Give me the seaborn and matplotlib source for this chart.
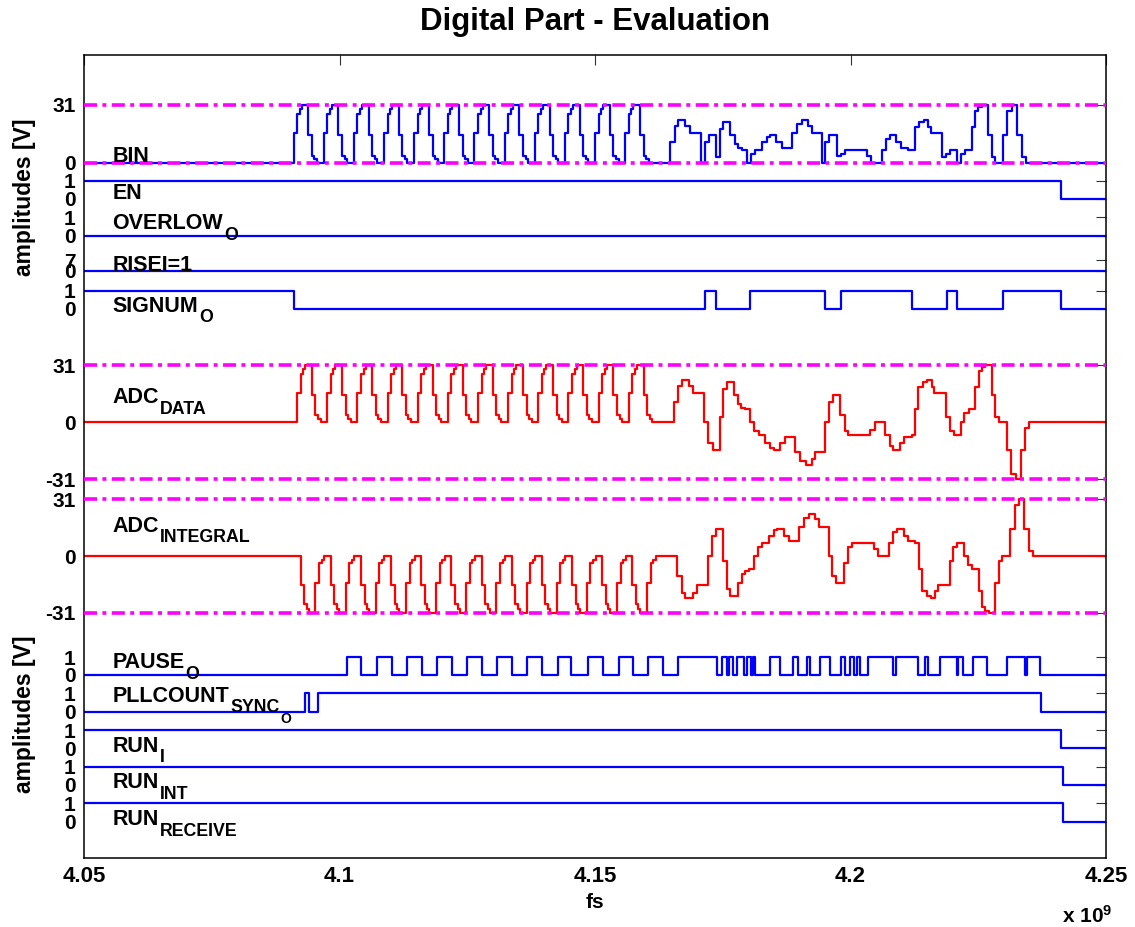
import numpy as np
import pandas as pd
import matplotlib
matplotlib.use("Agg")
import matplotlib.pyplot as plt
import seaborn as sns

sns.set_theme(style="white")
plt.rcParams['font.family'] = ['Liberation Sans', 'DejaVu Sans']
plt.rcParams['font.weight'] = 'bold'
plt.rcParams['text.color'] = 'black'
plt.rcParams['axes.labelcolor'] = 'black'
plt.rcParams['xtick.color'] = 'black'
plt.rcParams['ytick.color'] = 'black'
plt.rcParams['mathtext.fontset'] = 'custom'
plt.rcParams['mathtext.bf'] = 'Liberation Sans:bold'
plt.rcParams['mathtext.rm'] = 'Liberation Sans:bold'
plt.rcParams['mathtext.it'] = 'Liberation Sans:bold'

# ---------------------------------------------------------------------------
# Signal data: step breakpoints, time in units of 1e6 samples (fs)
# ---------------------------------------------------------------------------
bin_t = [
    4050.0,
    4091.0, 4091.7, 4092.2, 4092.6, 4093.9, 4094.6, 4095.1, 4095.6,
    4096.9, 4097.6, 4098.1, 4098.5, 4099.8, 4100.5, 4101.0, 4101.5,
    4102.8, 4103.5, 4104.0, 4104.4, 4105.7, 4106.4, 4106.9, 4107.4,
    4108.7, 4109.4, 4109.9, 4110.3, 4111.6, 4112.3, 4112.8, 4113.3,
    4114.6, 4115.3, 4115.8, 4116.2, 4117.5, 4118.2, 4118.7, 4119.2,
    4120.5, 4121.2, 4121.7, 4122.1, 4123.4, 4124.1, 4124.6, 4125.1,
    4126.4, 4127.1, 4127.6, 4128.0, 4129.3, 4130.0, 4130.5, 4131.0,
    4132.3, 4133.0, 4133.5, 4133.9, 4135.2, 4135.9, 4136.4, 4136.9,
    4138.2, 4138.9, 4139.4, 4139.8, 4141.1, 4141.8, 4142.3, 4142.8,
    4144.1, 4144.8, 4145.3, 4145.7, 4147.0, 4147.7, 4148.2, 4148.7,
    4150.0, 4150.7, 4151.2, 4151.6, 4152.9, 4153.6, 4154.1, 4154.6,
    4155.9, 4156.6, 4157.1, 4157.5, 4158.8, 4159.5, 4160.0, 4160.5,
    4164.7, 4165.6, 4166.3, 4167.7, 4168.5, 4170.7, 4171.5, 4172.3,
    4173.7, 4174.4, 4175.1, 4176.5, 4177.3, 4177.9, 4178.7, 4179.7,
    4180.5, 4181.3, 4182.6, 4183.6, 4184.3, 4185.5, 4186.5, 4188.5,
    4189.5, 4190.5, 4191.7, 4192.4, 4194.4, 4195.0, 4195.8, 4197.3,
    4198.2, 4198.9, 4203.2, 4204.0, 4206.1, 4207.0, 4207.7, 4209.0,
    4209.8, 4211.3, 4212.6, 4213.5, 4214.3, 4215.2, 4215.7, 4218.0,
    4218.7, 4219.5, 4220.9, 4221.6, 4222.4, 4223.7, 4224.4, 4225.0,
    4225.7, 4226.9, 4227.6, 4228.3, 4229.9, 4230.7, 4231.6, 4232.6,
    4233.5, 4234.3, 4250.0]
bin_v = [
    0,
    16, 26, 29, 31, 15, 4, 2, 0,
    16, 26, 29, 31, 15, 4, 2, 0,
    16, 26, 29, 31, 15, 4, 2, 0,
    16, 26, 29, 31, 15, 4, 2, 0,
    16, 26, 29, 31, 15, 4, 2, 0,
    16, 26, 29, 31, 15, 4, 2, 0,
    16, 26, 29, 31, 15, 4, 2, 0,
    16, 26, 29, 31, 15, 4, 2, 0,
    16, 26, 29, 31, 15, 4, 2, 0,
    16, 26, 29, 31, 15, 4, 2, 0,
    16, 26, 29, 31, 15, 4, 2, 0,
    16, 26, 29, 31, 15, 4, 2, 0,
    11, 20, 23, 20, 16, 0, 11, 15,
    3, 18, 22, 15, 10, 8, 7, 0,
    5, 7, 11, 14, 15, 11, 8, 16,
    21, 23, 20, 16, 0, 11, 15, 4,
    5, 7, 4, 0, 7, 13, 15, 11,
    8, 7, 19, 22, 23, 19, 16, 3,
    5, 7, 0, 5, 7, 19, 28, 30,
    31, 15, 3, 0, 15, 28, 31, 15,
    3, 0, 0]

en_t = [4050.0, 4241.2, 4250.0]
en_v = [1, 0, 0]

overlow_t = [4050.0, 4250.0]
overlow_v = [0, 0]

risei_t = [4050.0, 4250.0]
risei_v = [0, 0]

signum_t = [4050.0, 4091.0, 4171.5, 4173.7, 4180.3, 4195.0, 4198.1,
            4212.0, 4218.8, 4220.9, 4229.9, 4241.2, 4250.0]
signum_v = [1, 0, 1, 0, 1, 0, 1, 0, 1, 0, 1, 0, 0]

adc_data_t = [
    4050.0,
    4091.7, 4092.4, 4092.9, 4093.3, 4094.6, 4095.3, 4095.8, 4096.3,
    4097.6, 4098.3, 4098.8, 4099.2, 4100.5, 4101.2, 4101.7, 4102.2,
    4103.5, 4104.2, 4104.7, 4105.1, 4106.4, 4107.1, 4107.6, 4108.1,
    4109.4, 4110.1, 4110.6, 4111.0, 4112.3, 4113.0, 4113.5, 4114.0,
    4115.3, 4116.0, 4116.5, 4116.9, 4118.2, 4118.9, 4119.4, 4119.9,
    4121.2, 4121.9, 4122.4, 4122.8, 4124.1, 4124.8, 4125.3, 4125.8,
    4127.1, 4127.8, 4128.3, 4128.7, 4130.0, 4130.7, 4131.2, 4131.7,
    4133.0, 4133.7, 4134.2, 4134.6, 4135.9, 4136.6, 4137.1, 4137.6,
    4138.9, 4139.6, 4140.1, 4140.5, 4141.8, 4142.5, 4143.0, 4143.5,
    4144.8, 4145.5, 4146.0, 4146.4, 4147.7, 4148.4, 4148.9, 4149.4,
    4150.7, 4151.4, 4151.9, 4152.3, 4153.6, 4154.3, 4154.8, 4155.3,
    4156.6, 4157.3, 4157.8, 4158.2, 4159.5, 4160.2, 4160.7, 4161.2,
    4165.4, 4166.3, 4167.0, 4168.4, 4169.2, 4171.4, 4172.2, 4173.0,
    4174.4, 4175.1, 4175.8, 4177.2, 4178.0, 4178.6, 4179.4, 4180.4,
    4181.2, 4182.0, 4183.3, 4184.3, 4185.0, 4186.2, 4187.2, 4189.2,
    4190.2, 4191.2, 4192.4, 4193.1, 4195.1, 4195.7, 4196.5, 4198.0,
    4198.9, 4199.6, 4203.9, 4204.7, 4206.8, 4207.7, 4208.4, 4209.7,
    4210.5, 4212.0, 4212.7, 4213.3, 4214.2, 4215.0, 4215.9, 4216.4,
    4218.7, 4219.4, 4220.2, 4221.6, 4222.3, 4223.1, 4224.4, 4225.1,
    4225.7, 4226.4, 4227.6, 4228.3, 4229.0, 4230.6, 4231.4, 4232.3,
    4233.3, 4234.2, 4235.0, 4250.0]
adc_data_v = [
    0,
    16, 26, 29, 31, 15, 4, 2, 0,
    16, 26, 29, 31, 15, 4, 2, 0,
    16, 26, 29, 31, 15, 4, 2, 0,
    16, 26, 29, 31, 15, 4, 2, 0,
    16, 26, 29, 31, 15, 4, 2, 0,
    16, 26, 29, 31, 15, 4, 2, 0,
    16, 26, 29, 31, 15, 4, 2, 0,
    16, 26, 29, 31, 15, 4, 2, 0,
    16, 26, 29, 31, 15, 4, 2, 0,
    16, 26, 29, 31, 15, 4, 2, 0,
    16, 26, 29, 31, 15, 4, 2, 0,
    16, 26, 29, 31, 15, 4, 2, 0,
    11, 20, 23, 20, 16, 0, -11, -15,
    3, 18, 22, 15, 10, 8, 7, 0,
    -5, -7, -11, -14, -15, -11, -8, -16,
    -21, -23, -20, -16, 0, 11, 15, 4,
    -5, -7, -4, 0, -7, -13, -15, -11,
    -8, -7, 7, 19, 22, 23, 19, 16,
    3, -5, -7, 0, 5, 7, 19, 28,
    30, 31, 15, 3, 0, -15, -28, -31,
    -15, -3, 0, 0]

adc_int_t = [
    4050.0,
    4092.4, 4093.1, 4093.6, 4094.0, 4095.3, 4096.0, 4096.5, 4097.0,
    4098.3, 4099.0, 4099.5, 4099.9, 4101.2, 4101.9, 4102.4, 4102.9,
    4104.2, 4104.9, 4105.4, 4105.8, 4107.1, 4107.8, 4108.3, 4108.8,
    4110.1, 4110.8, 4111.3, 4111.7, 4113.0, 4113.7, 4114.2, 4114.7,
    4116.0, 4116.7, 4117.2, 4117.6, 4118.9, 4119.6, 4120.1, 4120.6,
    4121.9, 4122.6, 4123.1, 4123.5, 4124.8, 4125.5, 4126.0, 4126.5,
    4127.8, 4128.5, 4129.0, 4129.4, 4130.7, 4131.4, 4131.9, 4132.4,
    4133.7, 4134.4, 4134.9, 4135.3, 4136.6, 4137.3, 4137.8, 4138.3,
    4139.6, 4140.3, 4140.8, 4141.2, 4142.5, 4143.2, 4143.7, 4144.2,
    4145.5, 4146.2, 4146.7, 4147.1, 4148.4, 4149.1, 4149.6, 4150.1,
    4151.4, 4152.1, 4152.6, 4153.0, 4154.3, 4155.0, 4155.5, 4156.0,
    4157.3, 4158.0, 4158.5, 4158.9, 4160.2, 4160.9, 4161.4, 4161.9,
    4166.1, 4167.0, 4167.7, 4169.1, 4169.9, 4172.1, 4172.9, 4173.7,
    4175.1, 4175.8, 4176.5, 4177.9, 4178.7, 4179.3, 4180.1, 4181.1,
    4181.9, 4182.7, 4184.0, 4185.0, 4185.7, 4186.9, 4187.9, 4189.9,
    4190.9, 4191.9, 4193.1, 4193.8, 4195.8, 4196.4, 4197.2, 4198.7,
    4199.6, 4200.3, 4204.6, 4205.4, 4207.5, 4208.4, 4209.1, 4210.4,
    4211.2, 4212.7, 4213.4, 4214.0, 4214.9, 4215.7, 4216.6, 4217.1,
    4219.4, 4220.1, 4220.9, 4222.3, 4223.0, 4223.8, 4225.1, 4225.8,
    4226.4, 4227.1, 4228.3, 4229.0, 4229.7, 4231.3, 4232.1, 4233.0,
    4234.0, 4234.9, 4235.7, 4250.0]
adc_int_v = [
    0,
    -16, -26, -29, -31, -15, -4, -2, 0,
    -16, -26, -29, -31, -15, -4, -2, 0,
    -16, -26, -29, -31, -15, -4, -2, 0,
    -16, -26, -29, -31, -15, -4, -2, 0,
    -16, -26, -29, -31, -15, -4, -2, 0,
    -16, -26, -29, -31, -15, -4, -2, 0,
    -16, -26, -29, -31, -15, -4, -2, 0,
    -16, -26, -29, -31, -15, -4, -2, 0,
    -16, -26, -29, -31, -15, -4, -2, 0,
    -16, -26, -29, -31, -15, -4, -2, 0,
    -16, -26, -29, -31, -15, -4, -2, 0,
    -16, -26, -29, -31, -15, -4, -2, 0,
    -11, -20, -23, -20, -16, 0, 11, 15,
    -3, -18, -22, -15, -10, -8, -7, 0,
    5, 7, 11, 14, 15, 11, 8, 16,
    21, 23, 20, 16, 0, -11, -15, -4,
    5, 7, 4, 0, 7, 13, 15, 11,
    8, 7, -7, -19, -22, -23, -19, -16,
    -3, 5, 7, 0, -5, -7, -19, -28,
    -30, -31, -15, -3, 0, 15, 28, 31,
    15, 3, 0, 0]

pause_t = [
    4050.0, 4101.4, 4104.3, 4107.3, 4110.2, 4113.2, 4116.1, 4119.0, 4122.0,
    4124.9, 4127.8, 4130.8, 4133.8, 4136.6, 4139.6, 4142.7, 4145.4, 4148.7,
    4151.5, 4154.6, 4157.5, 4160.4, 4163.4, 4166.3, 4173.8, 4174.9, 4175.8,
    4176.3, 4177.1, 4177.7, 4179.2, 4179.7, 4180.5, 4180.9, 4181.3, 4184.3,
    4186.2, 4188.7, 4189.8, 4191.4, 4192.1, 4194.0, 4196.0, 4198.1, 4198.9,
    4199.9, 4200.6, 4201.2, 4201.9, 4203.5, 4208.4, 4209.0, 4213.3, 4214.6,
    4215.2, 4217.5, 4220.8, 4221.1, 4222.1, 4224.0, 4226.7, 4230.6, 4234.2,
    4234.5, 4237.1, 4250.0]
pause_v = [
    0, 1, 0, 1, 0, 1, 0, 1, 0,
    1, 0, 1, 0, 1, 0, 1, 0, 1,
    0, 1, 0, 1, 0, 1, 0, 1, 0,
    1, 0, 1, 0, 1, 0, 1, 0, 1,
    0, 1, 0, 1, 0, 1, 0, 1, 0,
    1, 0, 1, 0, 1, 0, 1, 0, 1,
    0, 1, 0, 1, 0, 1, 0, 1, 0,
    1, 0, 0]

pll_t = [4050.0, 4093.2, 4094.1, 4095.7, 4237.3, 4250.0]
pll_v = [0, 1, 0, 1, 0, 0]

run_i_t = [4050.0, 4241.2, 4250.0]
run_i_v = [1, 0, 0]

run_int_t = [4050.0, 4241.5, 4250.0]
run_int_v = [1, 0, 0]

run_rec_t = [4050.0, 4241.5, 4250.0]
run_rec_v = [1, 0, 0]

# Value ranges marked with dash-dot limit lines, per track
limits = {"BIN": [0, 31], "ADC_DATA": [31, -31], "ADC_INT": [31, -31]}

# ---------------------------------------------------------------------------
# Track layout: (baseline, units per signal step) on a shared vertical axis
# ---------------------------------------------------------------------------
LANES = {
    "BIN":      (695.0, 58.0 / 31),
    "EN":       (659.0, 18.0),
    "OVERLOW":  (622.3, 18.4),
    "RISEI":    (587.0, 11.0 / 7),
    "SIGNUM":   (549.0, 18.3),
    "ADC_DATA": (435.7, 57.0 / 31),
    "ADC_INT":  (302.0, 56.7 / 31),
    "PAUSE":    (183.0, 17.7),
    "PLL":      (146.3, 18.4),
    "RUN_I":    (109.7, 18.3),
    "RUN_INT":  (73.0, 18.3),
    "RUN_REC":  (36.3, 18.4),
}

TICKS = [("BIN", [31, 0]), ("EN", [1, 0]), ("OVERLOW", [1, 0]),
         ("RISEI", [7, 0]), ("SIGNUM", [1, 0]),
         ("ADC_DATA", [31, 0, -31]), ("ADC_INT", [31, 0, -31]),
         ("PAUSE", [1, 0]), ("PLL", [1, 0]), ("RUN_I", [1, 0]),
         ("RUN_INT", [1, 0]), ("RUN_REC", [1, 0])]

# (name, subscript, second-level subscript, text baseline)
LABELS = [
    ("BIN", "", "", 696.3),
    ("EN", "", "", 659.0),
    ("OVERLOW", "O", "", 629.0),
    ("RISEI=1", "", "", 587.0),
    ("SIGNUM", "O", "", 546.3),
    ("ADC", "DATA", "", 455.0),
    ("ADC", "INTEGRAL", "", 326.3),
    ("PAUSE", "O", "", 190.0),
    ("PLLCOUNT", "SYNC", "O", 156.3),
    ("RUN", "I", "", 106.3),
    ("RUN", "INT", "", 70.0),
    ("RUN", "RECEIVE", "", 33.0),
]

BLUE = "#0000FF"
RED = "#FF0000"
MAGENTA = "#FF00FF"
T_SCALE = 1e6

fig = plt.figure(figsize=(11.35, 9.27), dpi=100)
ax = fig.add_axes([84 / 1135, 69 / 927, 1022 / 1135, 803 / 927])


def draw(t, v, lane, color):
    base, gain = LANES[lane]
    df = pd.DataFrame({"t": np.asarray(t, float) * T_SCALE,
                       "y": base + gain * np.asarray(v, float)})
    sns.lineplot(data=df, x="t", y="y", ax=ax, color=color, lw=1.6,
                 drawstyle="steps-post", estimator=None, sort=False,
                 legend=False, zorder=2)


draw(bin_t, bin_v, "BIN", BLUE)
draw(en_t, en_v, "EN", BLUE)
draw(overlow_t, overlow_v, "OVERLOW", BLUE)
draw(risei_t, risei_v, "RISEI", BLUE)
draw(signum_t, signum_v, "SIGNUM", BLUE)
draw(adc_data_t, adc_data_v, "ADC_DATA", RED)
draw(adc_int_t, adc_int_v, "ADC_INT", RED)
draw(pause_t, pause_v, "PAUSE", BLUE)
draw(pll_t, pll_v, "PLL", BLUE)
draw(run_i_t, run_i_v, "RUN_I", BLUE)
draw(run_int_t, run_int_v, "RUN_INT", BLUE)
draw(run_rec_t, run_rec_v, "RUN_REC", BLUE)

# dash-dot limit lines
for lane, levels in limits.items():
    base, gain = LANES[lane]
    for lv in levels:
        ax.axhline(base + gain * lv, color=MAGENTA, lw=2.6,
                   linestyle=(0, (3.6, 1.5, 1.1, 1.5)), zorder=3)

# signal names with dropped subscripts
x_lab = 4055.6 * T_SCALE
for name, sub, subsub, y in LABELS:
    main = ax.text(x_lab, y, name, fontsize=15.5, fontweight="bold",
                   ha="left", va="baseline", zorder=4)
    if sub:
        s1 = ax.annotate(sub, xy=(1, y), xycoords=(main, "data"),
                         xytext=(0.6, -7.6), textcoords="offset points",
                         fontsize=12.8, fontweight="bold",
                         ha="left", va="baseline", zorder=4)
        if subsub:
            ax.annotate(subsub, xy=(1, y), xycoords=(s1, "data"),
                        xytext=(0.6, -15.4), textcoords="offset points",
                        fontsize=10, fontweight="bold",
                        ha="left", va="baseline", zorder=4)

# axes limits, ticks
ax.set_xlim(4050.0 * T_SCALE, 4250.0 * T_SCALE)
ax.set_ylim(0, 803)

yt, yl = [], []
for lane, levels in TICKS:
    base, gain = LANES[lane]
    for lv in levels:
        yt.append(base + gain * lv)
        yl.append(str(lv))
ax.set_yticks(yt)
ax.set_yticklabels(yl)

xt = [4050.0, 4100.0, 4150.0, 4200.0, 4250.0]
ax.set_xticks([x * T_SCALE for x in xt])
ax.set_xticklabels(["4.05", "4.1", "4.15", "4.2", "4.25"])

ax.tick_params(axis="both", direction="in", length=7, width=0.8,
               colors="#333333", labelcolor="black", labelsize=15,
               top=True, right=True, pad=6)
ax.tick_params(axis="x", labelsize=16)
ax.set_xlabel("")
ax.set_ylabel("")
for sp in ax.spines.values():
    sp.set_color("black")
    sp.set_linewidth(1.1)
ax.grid(False)

# titles and axis captions
fig.text(595 / 1135, 1 - 22 / 927, "Digital Part - Evaluation",
         fontsize=22.5, fontweight="bold", ha="center", va="center")
fig.text(595 / 1135, 1 - 902 / 927, "fs", fontsize=15,
         fontweight="bold", ha="center", va="center")
fig.text(1112 / 1135, 1 - 916 / 927, r"x 10$^\mathbf{9}$", fontsize=15,
         fontweight="bold", ha="right", va="center")
for yc in (197, 714):
    fig.text(25 / 1135, 1 - yc / 927, "amplitudes [V]", fontsize=16.5,
             fontweight="bold", ha="center", va="center", rotation=90)

fig.savefig("out.png", dpi=100, facecolor="white")
